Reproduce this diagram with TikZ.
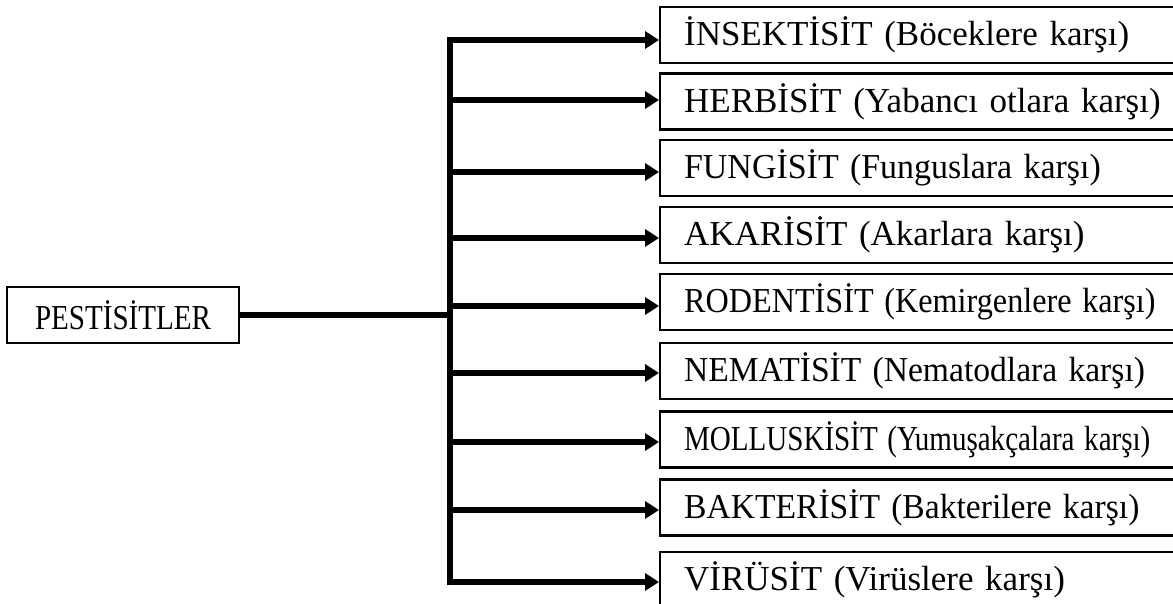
\documentclass[tikz,border=0pt]{standalone}
\usepackage{fontspec}
\setmainfont{Liberation Serif}
\usetikzlibrary{arrows.meta}
\newcommand{\hsq}[2]{\scalebox{#1}[1]{#2}}
\begin{document}
\begin{tikzpicture}[x=0.5pt,y=-0.5pt,
  catbox/.style={draw,line width=1.1pt,anchor=west,minimum height=28pt,inner xsep=12pt,text width=330pt,align=left,font=\fontsize{17.5pt}{21pt}\selectfont},
  rootbox/.style={draw,line width=1.1pt,minimum height=28pt,minimum width=116pt,inner xsep=10pt,align=left,font=\fontsize{17.5pt}{21pt}\selectfont},
  link/.style={line width=2.6pt},
  arr/.style={line width=2.6pt,-{Triangle[length=7pt,width=8.5pt]}}]
\useasboundingbox (0,0) rectangle (1173,604);
\node[rootbox] (p) at (123,315) {\hsq{0.83}{PESTİSİTLER}};
\node[catbox] (b1) at (659,35) {İNSEKTİSİT (Böceklere karşı)};
\node[catbox] (b2) at (659,101.5) {HERBİSİT (Yabancı otlara karşı)};
\node[catbox] (b3) at (659,168) {\hsq{0.97}{FUNGİSİT (Funguslara karşı)}};
\node[catbox] (b4) at (659,235) {AKARİSİT (Akarlara karşı)};
\node[catbox] (b5) at (659,302) {\hsq{0.92}{RODENTİSİT (Kemirgenlere karşı)}};
\node[catbox] (b6) at (659,371) {\hsq{0.96}{NEMATİSİT (Nematodlara karşı)}};
\node[catbox] (b7) at (659,439.5) {\hsq{0.83}{MOLLUSKİSİT (Yumuşakçalara karşı)}};
\node[catbox] (b8) at (659,507.5) {\hsq{0.96}{BAKTERİSİT (Bakterilere karşı)}};
\node[catbox] (b9) at (659,580) {VİRÜSİT (Virüslere karşı)};
\coordinate (t1) at (450,40);
\coordinate (t2) at (450,100);
\coordinate (t3) at (450,172);
\coordinate (t4) at (450,238);
\coordinate (t5) at (450,306);
\coordinate (t6) at (450,373);
\coordinate (t7) at (450,442);
\coordinate (t8) at (450,510);
\coordinate (t9) at (450,582);
\draw[link,line cap=rect] (t1) -- (t9);
\draw[link] (p.east) -- (p.east -| t1);
\foreach \i in {1,...,9}{
  \draw[arr] (t\i) -- (t\i -| b\i.west);
}
\end{tikzpicture}
\end{document}
